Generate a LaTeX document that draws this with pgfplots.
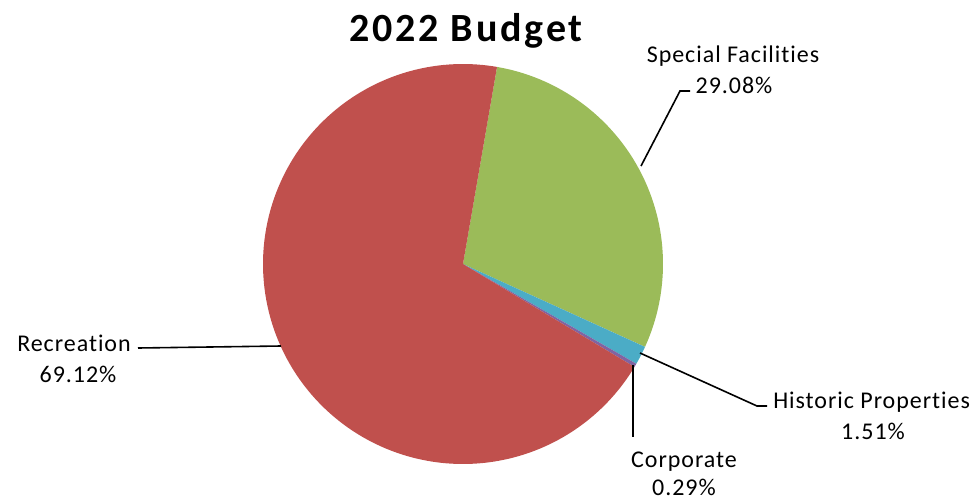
\documentclass[border=0pt]{standalone}
\usepackage{pgfplots}
\pgfplotsset{compat=1.18}
\usepackage{pgfplotstable}
\usepackage{fontspec}
\setmainfont{Carlito}
\newfontfamily\labelfont[LetterSpace=4, Ligatures=NoCommon]{Carlito}
\newfontfamily\titlefont[LetterSpace=7, Ligatures=NoCommon]{Carlito}
\definecolor{cSpec}{HTML}{9BBB59}
\definecolor{cHist}{HTML}{4BACC6}
\definecolor{cCorp}{HTML}{8064A2}
\definecolor{cRec}{HTML}{C0504D}
\pgfplotstableread{
name value
Special 29.08
Historic 1.51
Corporate 0.29
Recreation 69.12
}\budget
\begin{document}
\begin{tikzpicture}
\pgfplotstablegetelem{0}{value}\of\budget \let\vA\pgfplotsretval
\pgfplotstablegetelem{1}{value}\of\budget \let\vB\pgfplotsretval
\pgfplotstablegetelem{2}{value}\of\budget \let\vC\pgfplotsretval
\pgfplotstablegetelem{3}{value}\of\budget \let\vD\pgfplotsretval
\pgfmathsetmacro\tA{9.8}
\pgfmathsetmacro\tB{\tA+3.6*\vA}
\pgfmathsetmacro\tC{\tB+3.6*\vB}
\pgfmathsetmacro\tD{\tC+3.6*\vC}
\pgfmathsetmacro\tE{\tD+3.6*\vD}
\begin{axis}[
  scale only axis, width=733.5pt, height=375pt,
  xmin=0, xmax=978, ymin=0, ymax=500, y dir=reverse,
  hide axis, clip=false, anchor=south west, at={(0,0)},
]
\addplot[fill=cSpec, draw=none, domain=\tA:\tB, samples=90, variable=\t]
  ({463+200*sin(\t)},{264-200*cos(\t)}) -- (axis cs:463,264) -- cycle;
\addplot[fill=cHist, draw=none, domain=\tB:\tC, samples=10, variable=\t]
  ({463+200*sin(\t)},{264-200*cos(\t)}) -- (axis cs:463,264) -- cycle;
\addplot[fill=cCorp, draw=none, domain=\tC:\tD, samples=5, variable=\t]
  ({463+200*sin(\t)},{264-200*cos(\t)}) -- (axis cs:463,264) -- cycle;
\addplot[fill=cRec, draw=none, domain=\tD:\tE, samples=180, variable=\t]
  ({463+200*sin(\t)},{264-200*cos(\t)}) -- (axis cs:463,264) -- cycle;
% leader lines
\addplot[black, line width=1.2pt] coordinates {(641,166) (680,91) (690,91)};
\addplot[black, line width=1.2pt] coordinates {(640,353) (757,406) (767,406)};
\addplot[black, line width=1.2pt] coordinates {(633,365) (633,437)};
\addplot[black, line width=1.2pt] coordinates {(138,348) (281,346)};
% texts
\node[anchor=base, font=\titlefont\bfseries\fontsize{30}{34}\selectfont] at (axis cs:466,41) {2022 Budget};
\node[anchor=base, font=\labelfont\fontsize{18}{20}\selectfont] at (axis cs:733,62) {Special Facilities};
\node[anchor=base, font=\labelfont\fontsize{18}{20}\selectfont] at (axis cs:734,93) {29.08\%};
\node[anchor=base west, inner xsep=0pt, font=\labelfont\fontsize{18}{20}\selectfont] at (axis cs:773,408) {Historic Properties};
\node[anchor=base, font=\labelfont\fontsize{18}{20}\selectfont] at (axis cs:873,439) {1.51\%};
\node[anchor=base, font=\labelfont\fontsize{18}{20}\selectfont] at (axis cs:684,467) {Corporate};
\node[anchor=base, font=\labelfont\fontsize{18}{20}\selectfont] at (axis cs:684,495) {0.29\%};
\node[anchor=base west, inner xsep=0pt, font=\labelfont\fontsize{18}{20}\selectfont] at (axis cs:17,351) {Recreation};
\node[anchor=base, font=\labelfont\fontsize{18}{20}\selectfont] at (axis cs:78,382) {69.12\%};
\end{axis}
\pgfresetboundingbox
\path (0,0) rectangle (733.5pt,375pt);
\end{tikzpicture}
\end{document}
